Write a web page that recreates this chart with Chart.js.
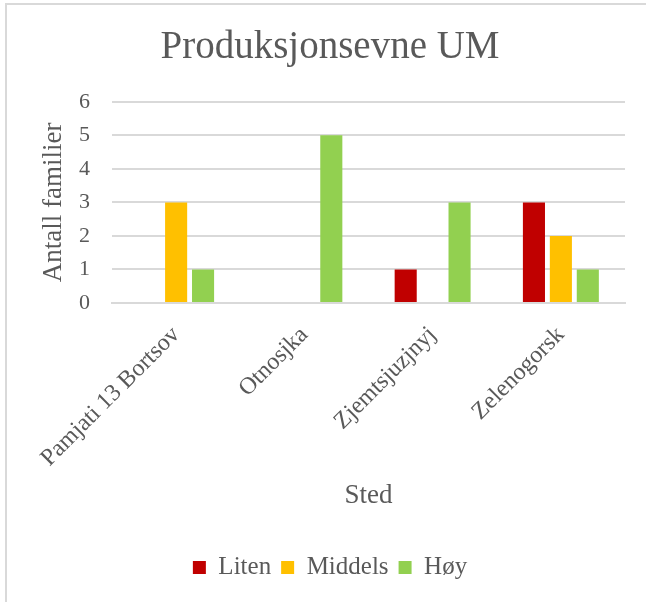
<!DOCTYPE html>
<html>
<head>
<meta charset="utf-8">
<script src="https://cdn.jsdelivr.net/npm/chart.js@4"></script>
<style>
  html, body { margin: 0; padding: 0; background: #fff; }
  #wrap { position: relative; width: 646px; height: 602px; overflow: hidden; }
  #frame { position: absolute; left: 5px; top: 3px; width: 700px; height: 700px;
           border-left: 2px solid #d9d9d9; border-top: 2px solid #d9d9d9; }
  canvas { position: absolute; left: 0; top: 0; }
</style>
</head>
<body>
<div id="wrap">
  <div id="frame"></div>
  <canvas id="chart" width="646" height="602"></canvas>
</div>
<script>
// --- data ---
const places = ["Pamjati 13 Bortsov", "Otnosjka", "Zjemtsjuzjnyj", "Zelenogorsk"];
const liten   = [0, 0, 1, 3];
const middels = [3, 0, 0, 2];
const hoy     = [1, 5, 3, 1];
const yTicks  = [0, 1, 2, 3, 4, 5, 6];

const FONT = "'Liberation Serif', 'Times New Roman', serif";
const GREY = "#595959";

new Chart(document.getElementById("chart"), {
  type: "bar",
  data: {
    labels: places,
    datasets: [
      { label: "Liten",   data: liten,   backgroundColor: "#c00000" },
      { label: "Middels", data: middels, backgroundColor: "#ffc000" },
      { label: "Høy",     data: hoy,     backgroundColor: "#92d050" }
    ]
  },
  options: {
    responsive: false,
    animation: false,
    devicePixelRatio: 1,
    categoryPercentage: 0.63,
    barPercentage: 0.82,
    layout: { padding: { left: 14, right: 0, top: 24, bottom: 12 } },
    plugins: {
      title: {
        display: true,
        text: "Produksjonsevne UM",
        color: GREY,
        font: { family: FONT, size: 39, weight: "normal" },
        padding: { top: 0, bottom: 31 }
      },
      legend: {
        position: "bottom",
        labels: {
          color: GREY,
          font: { family: FONT, size: 25 },
          boxWidth: 13, boxHeight: 13,
          padding: 10
        }
      },
      tooltip: { enabled: false }
    },
    scales: {
      x: {
        grid: { display: false },
        border: { color: "#d9d9d9", width: 2 },
        ticks: {
          color: GREY, font: { family: FONT, size: 24 },
          minRotation: 45, maxRotation: 45, autoSkip: false, padding: 10
        },
        title: {
          display: true, text: "Sted", color: GREY,
          font: { family: FONT, size: 27 },
          padding: { top: 0, bottom: 33 }
        },
        afterFit: s => { s.height = 242; }
      },
      y: {
        min: 0, max: 6,
        afterBuildTicks: s => { s.ticks = yTicks.map(v => ({ value: v })); },
        grid: { color: "#d9d9d9", lineWidth: 2, drawTicks: false },
        border: { display: false },
        ticks: { color: GREY, font: { family: FONT, size: 22 }, padding: 22 },
        title: {
          display: true, text: "Antall familier", color: GREY,
          font: { family: FONT, size: 27 },
          padding: { top: 24, bottom: 0 }
        },
        afterFit: s => { s.width = 98; }
      },
      // empty right-hand axis, only to leave the right margin Excel has
      yRight: {
        position: "right",
        grid: { display: false },
        border: { display: false },
        ticks: { display: false },
        afterFit: s => { s.width = 21; }
      }
    }
  }
});
</script>
</body>
</html>
